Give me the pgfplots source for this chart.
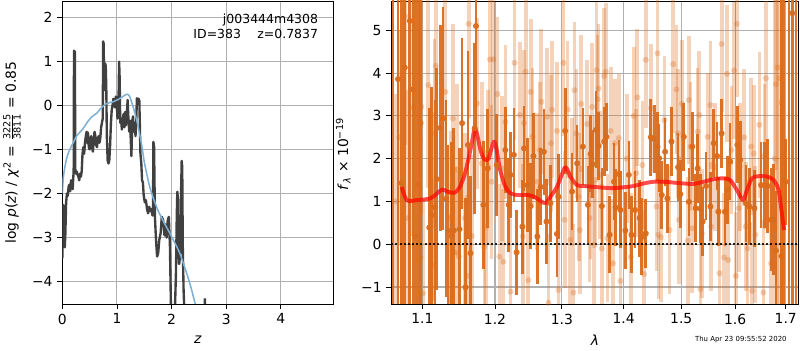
\documentclass[border=0pt]{standalone}
\usepackage{pgfplots}
\pgfplotsset{compat=1.18}
\usepackage{fontspec}
\setmainfont{DejaVu Sans}
\definecolor{dk}{RGB}{64,64,64}
\definecolor{bl}{RGB}{126,176,213}
\definecolor{orng}{RGB}{218,108,28}
\definecolor{gridc}{RGB}{176,176,176}
\begin{document}
\begin{tikzpicture}
\useasboundingbox (0,0) rectangle (576pt,252pt);
\pgfplotsset{
  myaxis/.style={scale only axis, anchor=south west, grid=major,
    major grid style={gridc, line width=0.8pt},
    tick align=outside, major tick length=3.5pt, tick pos=left,
    tick style={black, line width=0.6pt},
    axis line style={black, line width=0.6pt},
    tick label style={font=\fontsize{10}{12}\selectfont},
    /pgf/number format/assume math mode=true,
    label style={font=\fontsize{10}{12}\selectfont},
    every axis x label/.style={at={(axis description cs:0.5,-0.118)}, anchor=center},
  }
}
% ---------------- left panel: p(z)
\begin{axis}[myaxis, at={(44.86pt,33.12pt)}, width=195.12pt, height=218.16pt,
  xmin=0, xmax=4.96, ymin=-4.506, ymax=2.365,
  xtick={0,1,2,3,4}, ytick={-4,-3,-2,-1,0,1,2},
  yticklabels={−4,−3,−2,−1,0,1,2},
  xlabel={\textit{z}},
  ylabel={log \textit{p}(\textit{z}) / \textit{χ}\textsuperscript{2} = $\frac{\hbox{\scriptsize 3225}}{\hbox{\scriptsize 3811}}$ = 0.85},
  every axis y label/.style={at={(axis description cs:-0.186,0.5)}, anchor=center, rotate=90},
]
\addplot[dk, line width=1.7pt, line join=round] coordinates {
(0.000,-3.47) (0.008,-2.8) (0.015,-2.26) (0.025,-2.30) (0.035,-3.20) (0.045,-3.22) (0.055,-2.95) (0.070,-2.20) (0.085,-2.00) (0.100,-2.05) (0.115,-1.85) (0.130,-1.80) (0.145,-1.95) (0.160,-1.70) (0.175,-1.80) (0.190,-1.90) (0.200,-1.65) (0.208,-1.50) (0.214,1.24) (0.222,1.20) (0.230,1.22) (0.238,-1.45) (0.250,-1.55) (0.265,-1.50) (0.280,-1.58) (0.295,-1.62) (0.310,-1.70) (0.325,-1.55) (0.340,-1.62) (0.355,-1.50) (0.370,-1.10) (0.385,-0.95) (0.400,-1.10) (0.415,-0.85) (0.430,-0.70) (0.445,-0.60) (0.455,-0.85) (0.470,-0.62) (0.485,-0.95) (0.500,-1.00) (0.515,-0.75) (0.530,-0.70) (0.545,-0.95) (0.560,-1.05) (0.575,-0.80) (0.590,-0.60) (0.605,-0.70) (0.620,-0.90) (0.635,-0.95) (0.650,-0.75) (0.665,-0.70) (0.680,-0.85) (0.695,-0.75) (0.710,-0.50) (0.725,-0.40) (0.740,-0.30) (0.748,1.45) (0.756,1.40) (0.765,0.70) (0.775,0.35) (0.785,0.95) (0.795,0.90) (0.805,0.40) (0.815,-0.70) (0.830,-1.25) (0.845,-1.32) (0.860,-1.25) (0.875,-0.90) (0.890,-0.40) (0.905,-0.10) (0.920,0.00) (0.935,0.15) (0.950,0.10) (0.965,-0.05) (0.980,0.20) (0.995,0.10) (1.010,-0.30) (1.025,-0.20) (1.040,0.99) (1.050,0.60) (1.060,-0.40) (1.075,-0.30) (1.090,-0.55) (1.105,-0.35) (1.120,-0.20) (1.135,-0.50) (1.150,-0.15) (1.165,-0.45) (1.180,-0.25) (1.195,0.12) (1.210,-0.30) (1.225,-0.60) (1.240,-0.35) (1.255,-0.85) (1.265,-1.15) (1.280,-0.35) (1.295,-0.25) (1.310,-0.60) (1.325,-0.40) (1.340,-0.70) (1.355,-0.30) (1.365,0.16) (1.380,0.10) (1.395,0.15) (1.410,0.10) (1.420,-0.50) (1.430,-1.10) (1.445,-1.30) (1.460,-1.70) (1.475,-1.75) (1.490,-2.05) (1.510,-2.20) (1.530,-2.15) (1.550,-2.35) (1.570,-2.45) (1.590,-2.30) (1.610,-2.40) (1.630,-2.35) (1.650,-2.50) (1.660,-2.40) (1.667,-0.83) (1.680,-0.95) (1.695,-2.53) (1.715,-3.05) (1.735,-3.43) (1.755,-3.35) (1.775,-3.05) (1.800,-2.90) (1.820,-2.53) (1.845,-2.60) (1.870,-2.95) (1.890,-2.70) (1.910,-3.00) (1.930,-2.60) (1.950,-2.53) (1.970,-3.20) (1.990,-4.70) (2.040,-4.70) (2.060,-4.70) (2.080,-3.80) (2.095,-2.50) (2.105,-1.96) (2.115,-2.10) (2.125,-3.30) (2.140,-3.60) (2.155,-3.40) (2.170,-2.20) (2.185,-1.26) (2.195,-1.40) (2.205,-3.20) (2.220,-4.20) (2.235,-4.70)
};
\addplot[dk, line width=1.7pt] coordinates {(2.605,-4.70) (2.610,-4.38) (2.615,-4.70)};
\addplot[bl, line width=1.1pt, smooth, tension=0.4] coordinates {
(0,-2.0) (0.01,-1.8) (0.02,-1.62) (0.05,-1.38) (0.08,-1.20) (0.12,-1.05) (0.17,-0.92) (0.22,-0.80) (0.26,-0.70) (0.30,-0.64) (0.385,-0.52) (0.46,-0.38) (0.54,-0.26) (0.63,-0.18) (0.72,-0.05) (0.81,0.04) (0.93,0.08) (1.05,0.15) (1.12,0.21) (1.18,0.25) (1.21,0.24) (1.24,0.18) (1.30,-0.05) (1.36,-0.33) (1.41,-0.62) (1.45,-0.88) (1.50,-1.28) (1.55,-1.58) (1.60,-1.85) (1.67,-2.12) (1.75,-2.38) (1.85,-2.63) (1.95,-2.86) (2.03,-3.05) (2.10,-3.22) (2.16,-3.38) (2.22,-3.60) (2.30,-3.90) (2.37,-4.20) (2.43,-4.49) (2.48,-4.72)
};
\node[anchor=north east, align=right, font=\fontsize{9}{10.5}\selectfont, inner sep=0pt] at (rel axis cs:0.945,0.957) {j003444m4308\\ID=383\hspace{1.3em}z=0.7837};
\end{axis}
% ---------------- right panel: spectrum
\begin{axis}[myaxis, at={(281.74pt,33.12pt)}, width=293.18pt, height=218.16pt,
  xmode=log, xmin=1.0598, xmax=1.7262, ymin=-1.398, ymax=5.685,
  xtick={1.1,1.2,1.3,1.4,1.5,1.6,1.7},
  xticklabels={1.1,1.2,1.3,1.4,1.5,1.6,1.7}, xminorticks=false,
  ytick={-1,0,1,2,3,4,5}, yticklabels={−1,0,1,2,3,4,5},
  xlabel={\textit{λ}},
  ylabel={\textit{f}\textsubscript{\textit{λ}} × 10\textsuperscript{−19}},
  every axis y label/.style={at={(axis description cs:-0.118,0.495)}, anchor=center, rotate=90},
]
% light (second grism)
\addplot[color=orng, only marks, mark=*, mark size=2.2pt,
  mark options={solid, fill=orng, draw=orng, draw opacity=0, fill opacity=0.3},
  error bars/.cd, y dir=both, y explicit, error mark=none,
  error bar style={line width=2.7pt, color=orng, opacity=0.3}]
  table[row sep=\\, x=l, y=f, y error=e] {
l f e\\
1.0650 1.0 2.5\\ 1.0700 2.5 2.5\\ 1.0775 5.33 3.0\\ 1.0813 0.61 3.0\\ 1.0880 3.2 3.0\\
1.0965 2.45 2.5\\ 1.0975 -0.31 2.2\\ 1.0986 3.21 2.5\\ 1.1008 -1.15 2.2\\ 1.1077 3.72 2.4\\
1.1123 -0.49 2.0\\ 1.1146 0.88 2.2\\ 1.1160 2.59 2.2\\ 1.1178 4.17 2.3\\ 1.1307 3.56 2.2\\
1.1376 0.64 2.0\\ 1.1387 -1.34 2.0\\ 1.1408 2.94 2.2\\ 1.1435 -0.20 2.0\\ 1.1467 1.75 2.0\\
1.1490 -0.29 2.0\\ 1.1573 0.61 2.0\\ 1.1605 -0.74 1.9\\ 1.1628 5.15 2.2\\ 1.1669 0.19 1.9\\
1.1745 3.29 2.0\\ 1.1811 1.89 1.9\\ 1.1848 -0.06 1.8\\ 1.1876 0.41 1.8\\ 1.1904 1.81 1.8\\
1.1927 4.32 2.0\\ 1.1949 1.46 1.8\\ 1.1976 4.32 1.9\\ 1.2034 3.51 1.8\\ 1.2064 -0.29 1.7\\
1.2100 1.77 1.7\\ 1.2120 -0.41 1.7\\ 1.2150 2.86 1.8\\ 1.2225 -1.11 1.7\\ 1.2284 4.24 1.8\\
1.2364 3.02 1.7\\ 1.2404 0.18 1.7\\ 1.2424 2.83 1.7\\ 1.2449 4.03 1.8\\ 1.2488 -0.84 1.6\\
1.2524 3.56 1.7\\ 1.2549 2.51 1.6\\ 1.2624 1.46 1.6\\ 1.2663 2.20 1.6\\ 1.2684 3.33 1.7\\
1.2774 2.98 1.6\\ 1.2793 -1.37 1.6\\ 1.2834 2.36 1.6\\ 1.2849 3.14 1.6\\ 1.2924 2.65 1.6\\
1.2948 -1.07 1.6\\ 1.3024 4.24 1.7\\ 1.3044 0.57 1.6\\ 1.3089 3.15 1.6\\ 1.3132 0.10 1.6\\
1.3160 1.46 1.5\\ 1.3181 -1.13 1.6\\ 1.3197 3.60 1.6\\ 1.3229 2.59 1.5\\ 1.3267 1.11 1.5\\
1.3283 0.33 1.5\\ 1.3305 3.28 1.6\\ 1.3402 2.81 1.5\\ 1.3439 0.61 1.5\\ 1.3456 1.15 1.5\\
1.3480 3.21 1.5\\ 1.3515 -0.02 1.5\\ 1.3532 1.50 1.5\\ 1.3553 4.07 1.6\\ 1.3569 3.39 1.5\\
1.3585 3.64 1.5\\ 1.3609 1.62 1.5\\ 1.3638 -0.10 1.5\\ 1.3677 3.93 1.6\\ 1.3703 4.03 1.6\\
1.3730 0.14 1.5\\ 1.3784 2.65 1.5\\ 1.3822 -0.45 1.5\\ 1.3854 2.36 1.5\\ 1.3919 2.48 1.5\\
1.3945 -0.86 1.5\\ 1.4050 2.0 1.5\\ 1.4120 -0.3 1.5\\ 1.4170 3.0 1.6\\ 1.4214 1.66 1.5\\
1.4231 3.43 1.6\\ 1.4318 1.85 1.5\\ 1.4347 -0.70 1.5\\ 1.4375 4.31 1.6\\ 1.4462 3.18 1.5\\
1.4561 0.88 1.5\\ 1.4578 4.46 1.6\\ 1.4595 0.22 1.5\\ 1.4635 0.16 1.5\\ 1.4700 2.9 1.5\\
1.4792 0.33 1.5\\ 1.4856 4.21 1.6\\ 1.4913 3.62 1.5\\ 1.4943 2.59 1.5\\ 1.4960 0.57 1.5\\
1.5013 3.28 1.5\\ 1.5115 0.08 1.5\\ 1.5138 3.37 1.5\\ 1.5167 2.28 1.5\\ 1.5199 0.37 1.5\\
1.5297 2.63 1.5\\ 1.5329 3.02 1.5\\ 1.5348 -1.05 1.5\\ 1.5374 0.25 1.5\\ 1.5483 2.51 1.5\\
1.5533 3.25 1.5\\ 1.5548 0.41 1.5\\ 1.5620 1.8 1.5\\ 1.5703 -0.68 1.5\\ 1.5743 4.68 1.6\\
1.5793 -0.31 1.5\\ 1.5843 3.98 1.6\\ 1.5868 -0.37 1.5\\ 1.5930 2.2 1.5\\ 1.5980 4.06 1.6\\
1.6012 -0.74 1.5\\ 1.6032 5.15 1.7\\ 1.6067 0.84 1.5\\ 1.6087 1.81 1.5\\ 1.6176 2.50 1.6\\
1.6206 0.41 1.5\\ 1.6241 -0.10 1.6\\ 1.6308 2.28 1.6\\ 1.6328 -1.09 1.6\\ 1.6360 2.12 1.6\\
1.6393 0.22 1.6\\ 1.6472 2.79 1.7\\ 1.6551 -1.13 1.7\\ 1.6571 2.05 1.7\\ 1.6601 3.88 1.8\\
1.6704 -0.45 1.8\\ 1.6780 2.0 9\\ 1.6802 3.74 2.0\\ 1.6834 4.13 9\\ 1.6867 3.88 9\\
1.6913 3.31 9\\
};
% dark (first grism)
\addplot[color=orng, only marks, mark=*, mark size=2.2pt,
  mark options={solid, fill=orng, draw=orng, draw opacity=0, fill opacity=0.95},
  error bars/.cd, y dir=both, y explicit, error mark=none,
  error bar style={line width=1.9pt, color=orng, opacity=0.95}]
  table[row sep=\\, x=l, y=f, y error=e] {
l f e\\
1.0618 6.5 9\\ 1.0683 3.86 9\\ 1.0726 1.43 9\\ 1.0770 4.13 9\\
1.0835 5.22 9\\ 1.0875 3.62 9\\ 1.0912 0.18 9\\ 1.0945 1.40 9\\
1.0975 2.83 9\\ 1.1091 0.39 2.8\\ 1.1123 0.68 3.0\\ 1.1169 0.86 2.5\\ 1.1191 1.52 2.6\\
1.1238 2.72 2.4\\ 1.1274 2.94 2.6\\ 1.1315 1.06 2.3\\ 1.1343 0.31 2.0\\ 1.1390 0.19 2.2\\
1.1421 0.32 2.4\\ 1.1500 0.35 1.9\\ 1.1536 2.83 2.0\\ 1.1583 -1.01 2.1\\ 1.1618 2.32 2.2\\
1.1652 -0.21 1.8\\ 1.1711 2.71 2.0\\ 1.1729 5.10 2.5\\ 1.1835 0.92 1.5\\ 1.1894 1.77 1.4\\
1.2025 1.85 1.2\\ 1.2150 2.20 1.0\\ 1.2199 0.92 1.1\\ 1.2225 1.62 1.0\\ 1.2274 2.09 1.1\\
1.2314 -0.19 1.0\\ 1.2400 0.41 1.1\\ 1.2424 2.24 1.0\\ 1.2475 1.38 1.1\\ 1.2524 0.89 1.0\\
1.2564 2.06 1.0\\ 1.2624 0.18 1.1\\ 1.2674 1.34 0.9\\ 1.2723 2.16 1.0\\ 1.2763 0.53 1.0\\
1.2823 0.96 0.9\\ 1.2924 0.24 1.0\\ 1.2948 1.11 1.0\\ 1.3052 2.65 1.0\\ 1.3160 1.23 0.9\\
1.3241 1.89 0.9\\ 1.3331 2.28 0.9\\ 1.3412 0.92 0.9\\ 1.3456 2.11 0.9\\ 1.3488 1.87 0.8\\
1.3541 2.67 0.9\\ 1.3585 2.30 0.8\\ 1.3638 0.89 0.9\\ 1.3677 2.40 0.8\\ 1.3714 2.51 0.8\\
1.3767 0.22 0.9\\ 1.3838 1.46 0.9\\ 1.3864 0.86 0.9\\ 1.3919 1.64 0.8\\ 1.3945 0.80 0.9\\
1.4028 0.32 0.9\\ 1.4087 1.62 0.8\\ 1.4132 0.22 0.9\\ 1.4191 0.80 0.9\\ 1.4271 0.61 0.9\\
1.4306 0.17 0.9\\ 1.4375 0.25 0.8\\ 1.4462 2.50 0.9\\ 1.4521 2.46 0.8\\ 1.4578 2.28 0.8\\
1.4608 2.01 0.8\\ 1.4653 1.15 0.8\\ 1.4712 2.16 0.8\\ 1.4752 1.07 0.8\\ 1.4826 2.40 0.8\\
1.4943 1.80 0.8\\ 1.4983 1.17 0.8\\ 1.5045 2.51 0.8\\ 1.5138 0.99 0.8\\ 1.5199 2.28 0.8\\
1.5260 0.84 0.8\\ 1.5297 1.77 0.8\\ 1.5348 0.83 0.8\\ 1.5390 0.53 0.8\\ 1.5454 1.36 0.8\\
1.5533 0.88 0.8\\ 1.5595 2.36 0.8\\ 1.5658 2.06 0.8\\ 1.5682 0.76 0.8\\ 1.5743 2.59 0.8\\
1.5807 0.76 0.8\\ 1.5855 1.27 0.8\\ 1.5905 1.93 0.9\\ 1.6043 2.32 0.9\\ 1.6097 1.97 0.9\\
1.6209 0.96 0.9\\ 1.6275 0.88 0.9\\ 1.6374 0.84 0.9\\ 1.6506 1.38 1.0\\ 1.6571 1.38 1.0\\
1.6636 1.36 1.1\\ 1.6704 0.57 1.2\\ 1.6755 0.57 1.3\\ 1.6802 -0.15 1.4\\ 1.6913 -0.28 9\\
1.6953 1.50 9\\ 1.7000 1.46 1.0\\ 1.7067 7.0 9\\ 1.7135 5.40 9\\ 1.7210 -3.0 9\\
};
% zero line
\addplot[black, opacity=0.85, line width=1.4pt, dash pattern=on 1.4pt off 1.6pt] coordinates {(1.0598,0) (1.7262,0)};
% model
\addplot[red, opacity=0.7, line width=2.8pt, smooth, tension=0.5, line join=round] coordinates {
(1.0731,1.34) (1.0796,1.03) (1.0926,1.03) (1.1105,1.07) (1.1197,1.19) (1.1266,1.28) (1.1335,1.23) (1.1426,1.20) (1.1494,1.31) (1.1563,1.58) (1.1632,2.05) (1.1679,2.44) (1.1711,2.71) (1.1748,2.55) (1.1793,2.20) (1.1848,1.98) (1.1908,2.00) (1.1955,2.28) (1.1990,2.40) (1.2025,2.20) (1.2075,1.73) (1.2150,1.34) (1.2225,1.19) (1.2325,1.15) (1.2475,1.15) (1.2573,1.11) (1.2674,1.01) (1.2749,0.96) (1.2823,1.11) (1.2924,1.34) (1.3024,1.72) (1.3052,1.80) (1.3090,1.74) (1.3132,1.58) (1.3241,1.38) (1.3347,1.36) (1.3509,1.34) (1.3670,1.32) (1.3832,1.31) (1.3994,1.33) (1.4167,1.36) (1.4340,1.42) (1.4514,1.46) (1.4688,1.46) (1.4861,1.44) (1.5037,1.42) (1.5223,1.41) (1.5409,1.46) (1.5595,1.52) (1.5781,1.54) (1.5905,1.50) (1.6032,1.27) (1.6150,1.03) (1.6229,1.27) (1.6328,1.54) (1.6458,1.59) (1.6625,1.58) (1.6755,1.50) (1.6854,1.27) (1.6921,0.72) (1.6966,0.33)
};
\end{axis}
\node[anchor=base east, font=\fontsize{5}{6}\selectfont, inner sep=0pt] at (566.6pt,5.9pt) {Thu Apr 23 09:55:52 2020};
\end{tikzpicture}
\end{document}
